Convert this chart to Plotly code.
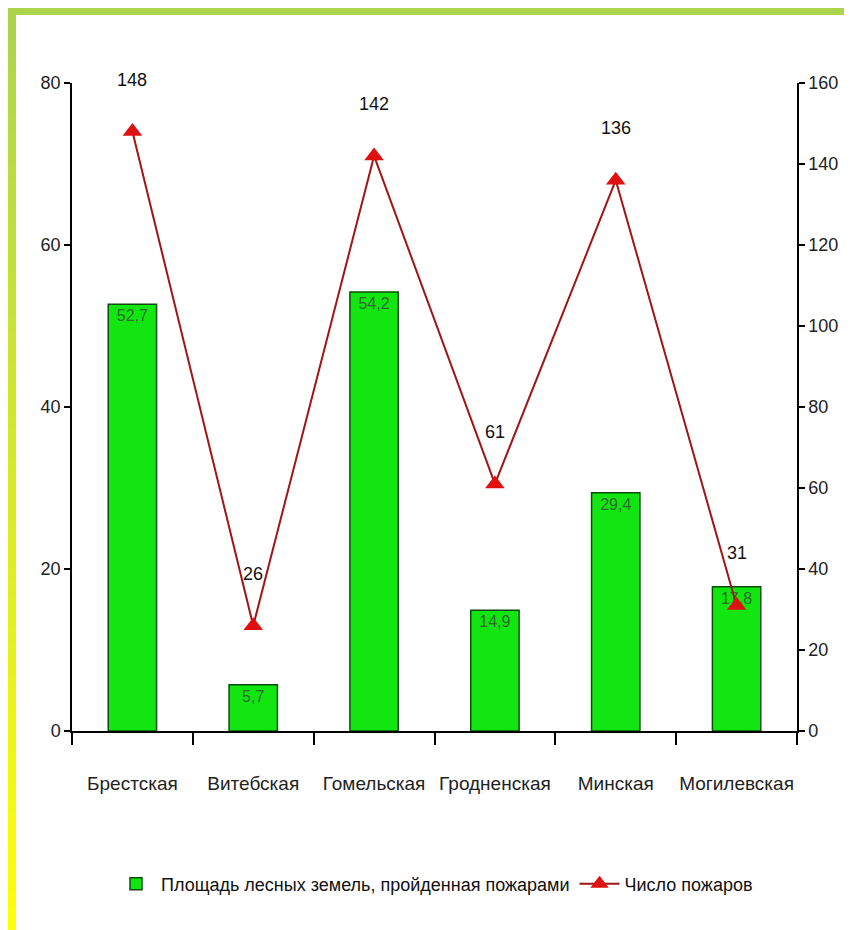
import plotly.graph_objects as go

regions = ["Брестская", "Витебская", "Гомельская", "Гродненская", "Минская", "Могилевская"]
area = [52.7, 5.7, 54.2, 14.9, 29.4, 17.8]
fires = [148, 26, 142, 61, 136, 31]
area_labels = ["52,7", "5,7", "54,2", "14,9", "29,4", "17,8"]
left_ticks = [0, 20, 40, 60, 80]
right_ticks = [0, 20, 40, 60, 80, 100, 120, 140, 160]

W, H = 852, 930
OFF = 8  # page body margin in the browser
ML, MT = 72 - OFF, 83 - OFF
MR, MB = W - (797 - OFF), H - (731 - OFF)
PW, PH = W - ML - MR, H - MT - MB
FONT = "Liberation Sans, Arial, sans-serif"


def px_x(x):
    return (x - ML) / PW


def px_y(y):
    return (H - MB - y) / PH


fig = go.Figure()
fig.add_trace(go.Bar(
    x=regions, y=area, name="Площадь лесных земель, пройденная пожарами",
    marker=dict(color="#11e611", line=dict(color="#0b4d0b", width=1.5)),
    width=0.4, text=area_labels, textposition="inside", insidetextanchor="end",
    textfont=dict(family=FONT, size=16, color="#2b6b2b"), textangle=0,
    hoverinfo="skip", yaxis="y",
))
fig.add_trace(go.Scatter(
    x=regions, y=fires, name="Число пожаров", mode="lines+markers",
    line=dict(color="#a01515", width=2),
    marker=dict(symbol="triangle-up", size=17, color="#e01010"),
    yaxis="y2",
))

for r, v in zip(regions, fires):
    fig.add_annotation(x=r, y=v, yref="y2", text=str(v), showarrow=False,
                       yshift=52, font=dict(family=FONT, size=18, color="#111"))

# decorative frame: top band and left gradient strip
shapes = [dict(type="rect", xref="paper", yref="paper", x0=px_x(0), x1=px_x(W),
               y0=px_y(7), y1=px_y(0), fillcolor="rgb(172,212,76)", line_width=0, layer="below")]
N = 60
c0, c1 = (172, 212, 76), (255, 255, 8)
for i in range(N):
    t = (i + 0.5) / N
    col = tuple(int(round(a + (b - a) * t)) for a, b in zip(c0, c1))
    shapes.append(dict(type="rect", xref="paper", yref="paper", x0=px_x(0), x1=px_x(8),
                       y0=px_y(H * (i + 1) / N + 0.5), y1=px_y(H * i / N),
                       fillcolor="rgb(%d,%d,%d)" % col, line_width=0, layer="below"))

axis_font = dict(family=FONT, size=18, color="#222")
fig.update_layout(
    width=W, height=H, margin=dict(l=ML, r=MR, t=MT, b=MB, autoexpand=False),
    paper_bgcolor="white", plot_bgcolor="white",
    font=dict(family=FONT, size=18, color="#222"),
    shapes=shapes, showlegend=True,
    xaxis=dict(showline=True, linecolor="black", linewidth=1.5, ticks="outside",
               tickson="boundaries", ticklen=12, tickcolor="black", tickwidth=1.5,
               tickfont=dict(family=FONT, size=19, color="#222"), range=[-0.5, 5.5],
               ticklabelstandoff=34,
               tickangle=0, automargin=False, showgrid=False, zeroline=False),
    yaxis=dict(range=[0, 80], tickvals=left_ticks, showline=True, linecolor="black",
               linewidth=1.5, ticks="outside", ticklen=6, tickcolor="black", tickwidth=1.5,
               tickfont=axis_font, automargin=False, showgrid=False, zeroline=False),
    yaxis2=dict(range=[0, 160], tickvals=right_ticks, overlaying="y", side="right",
                showline=True, linecolor="black", linewidth=1.5, ticks="outside",
                ticklen=6, tickcolor="black", tickwidth=1.5, tickfont=axis_font,
                automargin=False, showgrid=False, zeroline=False),
    legend=dict(orientation="h", x=0.5, xanchor="center", y=px_y(884 - OFF), yanchor="middle",
                font=dict(family=FONT, size=18, color="#111"), itemwidth=40,
                bgcolor="rgba(0,0,0,0)"),
)

fig.write_html("out.html")
